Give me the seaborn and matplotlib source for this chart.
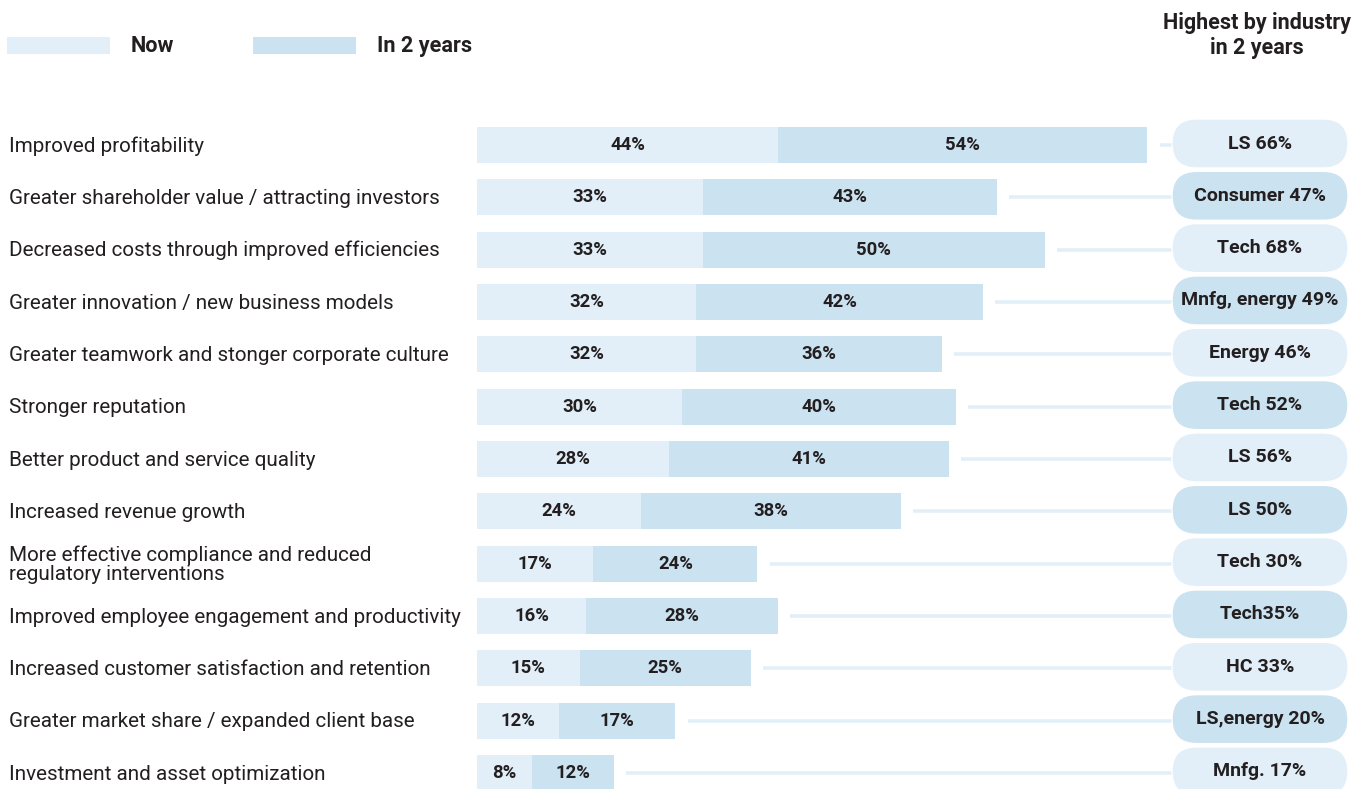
import matplotlib
matplotlib.use("Agg")
import matplotlib.pyplot as plt
import seaborn as sns
import pandas as pd
from matplotlib.patches import FancyBboxPatch, Rectangle
from matplotlib.transforms import blended_transform_factory

categories = [
    "Improved profitability",
    "Greater shareholder value / attracting investors",
    "Decreased costs through improved efficiencies",
    "Greater innovation / new business models",
    "Greater teamwork and stonger corporate culture",
    "Stronger reputation",
    "Better product and service quality",
    "Increased revenue growth",
    "More effective compliance and reduced\nregulatory interventions",
    "Improved employee engagement and productivity",
    "Increased customer satisfaction and retention",
    "Greater market share / expanded client base",
    "Investment and asset optimization",
]
now = [44, 33, 33, 32, 32, 30, 28, 24, 17, 16, 15, 12, 8]
in_2_years = [54, 43, 50, 42, 36, 40, 41, 38, 24, 28, 25, 17, 12]
highest = ["LS 66%", "Consumer 47%", "Tech 68%", "Mnfg, energy 49%", "Energy 46%",
           "Tech 52%", "LS 56%", "LS 50%", "Tech 30%", "Tech35%", "HC 33%",
           "LS,energy 20%", "Mnfg. 17%"]
series = ["Now", "In 2 years"]
header = "Highest by industry\nin 2 years"

LIGHT = "#e2eff8"
DARK = "#cbe2f0"
TEXT = "#231f20"

sns.set_theme(style="white")
plt.rcParams['font.family'] = ['Roboto', 'DejaVu Sans']

W, H = 1369, 789
fig = plt.figure(figsize=(W / 100, H / 100), dpi=100)
fig.patch.set_facecolor("white")

df = pd.DataFrame({"category": categories, "now": now, "later": in_2_years})
df["total"] = df["now"] + df["later"]

ax_left_px, row0_px, row_step = 477, 145, 52.33
px_per_pct = 6.84
n = len(categories)
top_px = row0_px - row_step / 2
bot_px = row0_px + row_step * (n - 0.5)
ax = fig.add_axes([ax_left_px / W, (H - bot_px) / H, (W - ax_left_px) / W, (bot_px - top_px) / H])
ax.patch.set_alpha(0)

pill_left_px, pill_w, pill_h = 1172, 176, 49
pill_left_pct = (pill_left_px - ax_left_px) / px_per_pct

# connector lines (behind bars)
ax.hlines(range(n), df["total"] + 1.8, pill_left_pct, color=LIGHT, lw=2.6, zorder=0)

sns.barplot(data=df, x="total", y="category", color=DARK, width=0.69, ax=ax,
            saturation=1, orient="h", order=categories, zorder=2, linewidth=0,
            edgecolor="none")
sns.barplot(data=df, x="now", y="category", color=LIGHT, width=0.69, ax=ax,
            saturation=1, orient="h", order=categories, zorder=3, linewidth=0,
            edgecolor="none")
ax.set_xlim(0, (W - ax_left_px) / px_per_pct)
ax.set_ylim(n - 0.5, -0.5)
ax.axis("off")

for i, (a, b) in enumerate(zip(now, in_2_years)):
    ax.text(a / 2, i, f"{a}%", ha="center", va="center", fontsize=13.3,
            fontweight="bold", color=TEXT, zorder=5)
    ax.text(a + b / 2, i, f"{b}%", ha="center", va="center", fontsize=13.3,
            fontweight="bold", color=TEXT, zorder=5)

trans = blended_transform_factory(fig.transFigure, ax.transData)
for i, c in enumerate(categories):
    ax.text(9 / W, i + 0.02, c, transform=trans, ha="left", va="center", fontsize=14.9,
            color=TEXT, linespacing=1.05, clip_on=False)

# overlay axes in pixel coordinates for pills, legend and header
ov = fig.add_axes([0, 0, 1, 1])
ov.set_xlim(0, W)
ov.set_ylim(H, 0)
ov.axis("off")
ov.patch.set_alpha(0)

for i, lab in enumerate(highest):
    yc = row0_px - 1.5 + i * row_step
    col = LIGHT if i % 2 == 0 else DARK
    ov.add_patch(FancyBboxPatch((pill_left_px, yc - pill_h / 2), pill_w, pill_h,
                                boxstyle=f"round,pad=0,rounding_size={pill_h/2}",
                                facecolor=col, edgecolor="white", lw=1, zorder=4))
    ov.text(pill_left_px + pill_w / 2, yc, lab, ha="center", va="center",
            fontsize=14, fontweight="bold", color=TEXT, zorder=5)

# legend
for x0, col, lab in [(7, LIGHT, series[0]), (253, DARK, series[1])]:
    ov.add_patch(Rectangle((x0, 37), 103, 17, facecolor=col, edgecolor="none"))
    ov.text(x0 + 124, 46, lab, ha="left", va="center", fontsize=15.6,
            fontweight="bold", color=TEXT)

ov.text(1257, 35.5, header, ha="center", va="center", fontsize=15.5,
        fontweight="bold", color=TEXT, linespacing=1.22)

fig.savefig("out.png", dpi=100, facecolor="white")
